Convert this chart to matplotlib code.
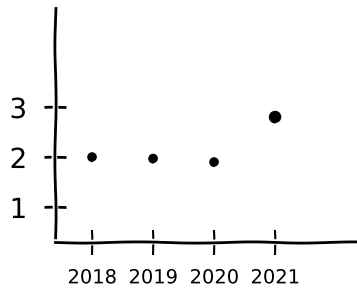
import matplotlib
matplotlib.use("Agg")
import matplotlib.pyplot as plt

years = ["2018", "2019", "2020", "2021"]
values = [2.0, 1.97, 1.9, 2.8]
dot_sizes = [30, 30, 30, 55]
y_ticks = [1, 2, 3]

plt.xkcd(scale=0.6, length=120, randomness=2)
plt.rcParams["font.family"] = ["DejaVu Sans"]

fig = plt.figure(figsize=(3.57, 3.01), dpi=100)
ax = fig.add_axes([0.154, 0.196, 0.846, 0.777])

ax.scatter(range(len(years)), values, s=dot_sizes, color="black", zorder=3)

ax.set_xlim(-0.61, 4.34)
ax.set_ylim(0.3, 4.98)

ax.set_xticks(range(len(years)))
ax.set_xticklabels(years, fontsize=14)
ax.set_yticks(y_ticks)
ax.set_yticklabels([str(t) for t in y_ticks], fontsize=20)

for side in ["top", "right"]:
    ax.spines[side].set_visible(False)
for side in ["left", "bottom"]:
    ax.spines[side].set_linewidth(2)

ax.tick_params(axis="y", direction="inout", length=16, width=2, pad=12)
ax.tick_params(axis="x", direction="inout", length=18, width=1.5, pad=10)

fig.savefig("out.png", dpi=100)
